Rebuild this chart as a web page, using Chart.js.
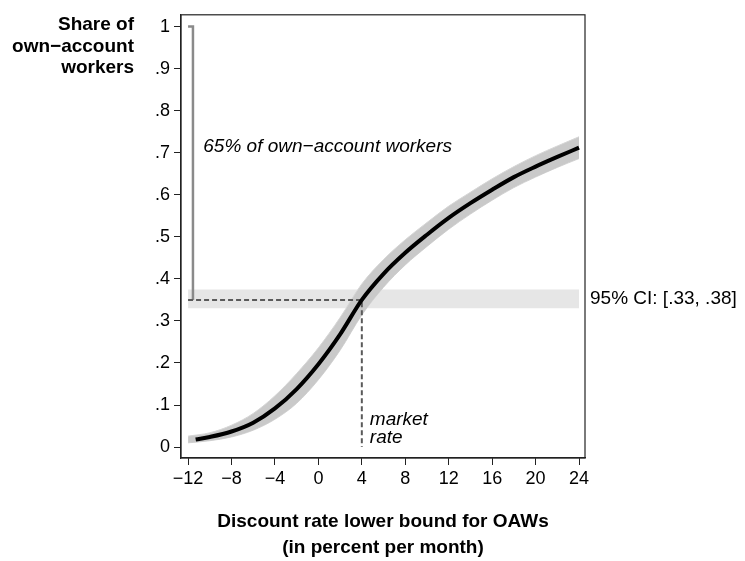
<!DOCTYPE html>
<html>
<head>
<meta charset="utf-8">
<script src="https://cdn.jsdelivr.net/npm/chart.js@4/dist/chart.umd.min.js"></script>
<style>
  body { margin: 0; background: #fff; }
  canvas { display: block; }
</style>
</head>
<body>
<canvas id="chart" width="745" height="561"></canvas>
<script>
// curve estimate (share of OAWs whose discount rate lower bound exceeds x)
const rateX = [-11.3, -10, -8, -6, -4, -2, 0, 2, 4, 6, 8, 10, 12, 14, 16, 18, 20, 22, 24];
const shareEst = [0.018, 0.024, 0.037, 0.058, 0.092, 0.138, 0.197, 0.268, 0.350, 0.412, 0.462, 0.505, 0.545, 0.580, 0.612, 0.642, 0.667, 0.690, 0.712];

// spread of bootstrap curves
const bandX = [-12, -10, -8, -6, -4, -2, 0, 2, 4, 6, 8, 10, 12, 14, 16, 18, 20, 22, 24];
const bandLow = [0.010, 0.015, 0.024, 0.040, 0.066, 0.104, 0.160, 0.230, 0.314, 0.380, 0.433, 0.477, 0.518, 0.554, 0.587, 0.617, 0.642, 0.665, 0.686];
const bandHigh = [0.026, 0.034, 0.052, 0.080, 0.122, 0.175, 0.236, 0.308, 0.388, 0.446, 0.493, 0.534, 0.573, 0.606, 0.638, 0.667, 0.693, 0.716, 0.738];

// confidence interval of the share at the market rate
const ciX = [-12, 24];
const ciLow = 0.33;
const ciHigh = 0.375;
const marketRate = 4;
const shareAtMarket = 0.35;
const bracketX = [-12, -11.55, -11.55];
const bracketY = [1, 1, 0.35];

const xTickValues = [-12, -8, -4, 0, 4, 8, 12, 16, 20, 24];
const xTickLabels = ['\u221212', '\u22128', '\u22124', '0', '4', '8', '12', '16', '20', '24'];
const yTickValues = [0, 0.1, 0.2, 0.3, 0.4, 0.5, 0.6, 0.7, 0.8, 0.9, 1];
const yTickLabels = ['0', '.1', '.2', '.3', '.4', '.5', '.6', '.7', '.8', '.9', '1'];

const FONT = '"Liberation Sans", Arial, Helvetica, sans-serif';
const pts = (xs, ys) => xs.map((x, i) => ({ x, y: Array.isArray(ys) ? ys[i] : ys }));

const textPlugin = {
  id: 'texts',
  afterDraw(chart) {
    const { ctx, chartArea: a, scales: { x, y } } = chart;
    ctx.save();
    // frame
    ctx.strokeStyle = '#222';
    ctx.lineWidth = 1.2;
    ctx.strokeRect(a.left, a.top, a.right - a.left, a.bottom - a.top);

    ctx.fillStyle = '#000';
    ctx.textBaseline = 'middle';

    ctx.font = 'italic 19px ' + FONT;
    ctx.textAlign = 'left';
    ctx.fillText('65% of own\u2212account workers', x.getPixelForValue(-10.6), 147);
    ctx.fillText('market', x.getPixelForValue(marketRate) + 8, 420);
    ctx.fillText('rate', x.getPixelForValue(marketRate) + 8, 438);

    ctx.font = '19px ' + FONT;
    ctx.fillText('95% CI: [.33, .38]', a.right + 5, y.getPixelForValue((ciLow + ciHigh) / 2));

    ctx.font = 'bold 19px ' + FONT;
    ctx.textAlign = 'right';
    ['Share of', 'own\u2212account', 'workers'].forEach((t, i) => ctx.fillText(t, 134, 25 + i * 21.5));

    ctx.textAlign = 'center';
    const cx = (a.left + a.right) / 2;
    ctx.fillText('Discount rate lower bound for OAWs', cx, 522);
    ctx.fillText('(in percent per month)', cx, 548);
    ctx.restore();
  }
};

new Chart(document.getElementById('chart'), {
  type: 'scatter',
  data: {
    datasets: [
      {
        data: pts(rateX, shareEst),
        showLine: true, borderColor: '#000', borderWidth: 4,
        pointRadius: 0, cubicInterpolationMode: 'monotone', order: 0
      },
      {
        data: [{ x: ciX[0], y: shareAtMarket }, { x: marketRate, y: shareAtMarket }, { x: marketRate, y: 0 }],
        showLine: true, borderColor: '#5a5a5a', borderWidth: 2, borderDash: [5, 3],
        pointRadius: 0, order: 1
      },
      {
        data: pts(bracketX, bracketY),
        showLine: true, borderColor: '#8a8a8a', borderWidth: 2.5,
        pointRadius: 0, order: 2
      },
      {
        data: pts(bandX, bandHigh),
        showLine: true, borderColor: '#d6d6d6', borderWidth: 1, backgroundColor: '#c9c9c9',
        fill: '+1', pointRadius: 0, cubicInterpolationMode: 'monotone', order: 5
      },
      {
        data: pts(bandX, bandLow),
        showLine: true, borderColor: '#d6d6d6', borderWidth: 1,
        pointRadius: 0, cubicInterpolationMode: 'monotone', order: 6
      },
      {
        data: pts(ciX, ciHigh),
        showLine: true, borderWidth: 0, borderColor: 'rgba(0,0,0,0)', backgroundColor: '#e6e6e6',
        fill: '+1', pointRadius: 0, order: 8
      },
      {
        data: pts(ciX, ciLow),
        showLine: true, borderWidth: 0, borderColor: 'rgba(0,0,0,0)',
        pointRadius: 0, order: 9
      }
    ]
  },
  options: {
    responsive: false,
    animation: false,
    layout: { padding: { top: 7, right: 160, left: 0, bottom: 0 } },
    plugins: { legend: { display: false }, tooltip: { enabled: false } },
    scales: {
      x: {
        type: 'linear', min: -12.65, max: 24.55,
        afterFit: s => { s.height = 103; },
        afterBuildTicks: s => { s.ticks = xTickValues.map(v => ({ value: v })); },
        grid: { drawOnChartArea: false, drawTicks: true, tickLength: 7, color: '#222' },
        border: { display: true, color: '#222', width: 1.2 },
        ticks: {
          color: '#000', padding: 3, maxRotation: 0, autoSkip: false,
          font: { family: FONT, size: 18 },
          callback: (v, i) => xTickLabels[i]
        }
      },
      y: {
        type: 'linear', min: -0.026, max: 1.028,
        afterFit: s => { s.width = 181; },
        afterBuildTicks: s => { s.ticks = yTickValues.map(v => ({ value: v })); },
        grid: { drawOnChartArea: false, drawTicks: true, tickLength: 7, color: '#222' },
        border: { display: true, color: '#222', width: 1.2 },
        ticks: {
          color: '#000', padding: 4, autoSkip: false,
          font: { family: FONT, size: 18 },
          callback: (v, i) => yTickLabels[i]
        }
      }
    }
  },
  plugins: [textPlugin]
});
</script>
</body>
</html>
